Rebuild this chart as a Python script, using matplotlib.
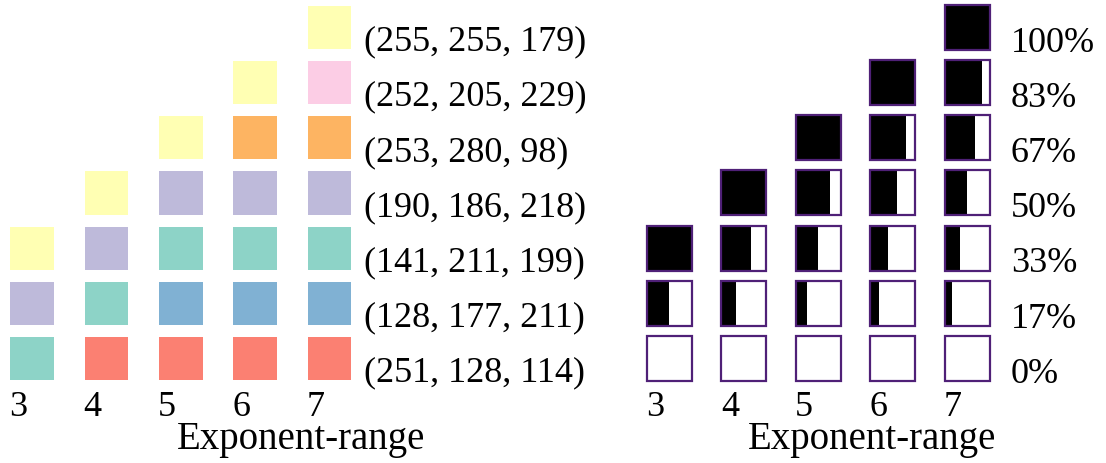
import numpy as np
import matplotlib.pyplot as plt

# exponent ranges (one column each)
exp_ranges = [3, 4, 5, 6, 7]

# Set3-style palette colours, listed bottom to top for every column
teal = (141, 211, 199)
yellow = (255, 255, 179)
lavender = (190, 186, 218)
salmon = (251, 128, 114)
blue = (128, 177, 211)
orange = (253, 180, 98)
pink = (252, 205, 229)
col_colors = {
    3: [teal, lavender, yellow],
    4: [salmon, teal, lavender, yellow],
    5: [salmon, blue, teal, lavender, yellow],
    6: [salmon, blue, teal, lavender, orange, yellow],
    7: [salmon, blue, teal, lavender, orange, pink, yellow],
}
# text printed next to the tallest column (as in the original figure)
rgb_labels = ["(251, 128, 114)", "(128, 177, 211)", "(141, 211, 199)",
              "(190, 186, 218)", "(253, 280, 98)", "(252, 205, 229)",
              "(255, 255, 179)"]
pct_labels = ["0%", "17%", "33%", "50%", "67%", "83%", "100%"]

plt.rcParams['font.family'] = ['Liberation Serif', 'DejaVu Serif']
FS = 26
edge = '#4f2077'

fig = plt.figure(figsize=(11.06, 4.63), dpi=100)
W, H = 1106, 463
col_px = 74.4    # pixels per column
row_px = 55.17   # pixels per row
half = 553


def make_ax(left_px, col3_px):
    ax = fig.add_axes([left_px / W, 0, half / W, 1])
    x0 = 3 - col3_px / col_px
    ax.set_xlim(x0, x0 + half / col_px)
    y0 = -104.5 / row_px
    ax.set_ylim(y0, y0 + H / row_px)
    ax.axis('off')
    return ax


# left panel: colour swatches
ax1 = make_ax(0, 32)
w1, h1 = 0.585, 0.78
for e in exp_ranges:
    cols = [tuple(c / 255 for c in rgb) for rgb in col_colors[e]]
    rows = np.arange(len(cols))
    ax1.bar(np.full(len(rows), e), h1, bottom=rows - h1 / 2, width=w1,
            color=cols, linewidth=0)
    ax1.text(e - 0.31, -1.04, str(e), fontsize=FS, ha='left', va='baseline')
for i, lab in enumerate(rgb_labels):
    ax1.text(7.46, i - 0.42, lab, fontsize=FS, ha='left', va='baseline')
ax1.text(0.544, 14 / H, "Exponent-range", fontsize=28, ha='center',
         va='baseline', transform=ax1.transAxes)

# right panel: fraction boxes
ax2 = make_ax(half, 669.5 - half)
w2, h2 = 0.605, 0.816
for e in exp_ranges:
    rows = np.arange(e)
    frac = rows / (e - 1)
    ax2.bar(np.full(e, e) - w2 / 2, h2, bottom=rows - h2 / 2, width=frac * w2,
            align='edge', color='black', linewidth=0)
    ax2.bar(np.full(e, e), h2, bottom=rows - h2 / 2, width=w2,
            facecolor='none', edgecolor=edge, linewidth=1.6)
    ax2.text(e - 0.31, -1.04, str(e), fontsize=FS, ha='left', va='baseline')
for i, lab in enumerate(pct_labels):
    ax2.text(7.59, i - 0.44, lab, fontsize=FS, ha='left', va='baseline')
ax2.text(0.577, 14 / H, "Exponent-range", fontsize=28, ha='center',
         va='baseline', transform=ax2.transAxes)

fig.savefig('out.png', dpi=100)
